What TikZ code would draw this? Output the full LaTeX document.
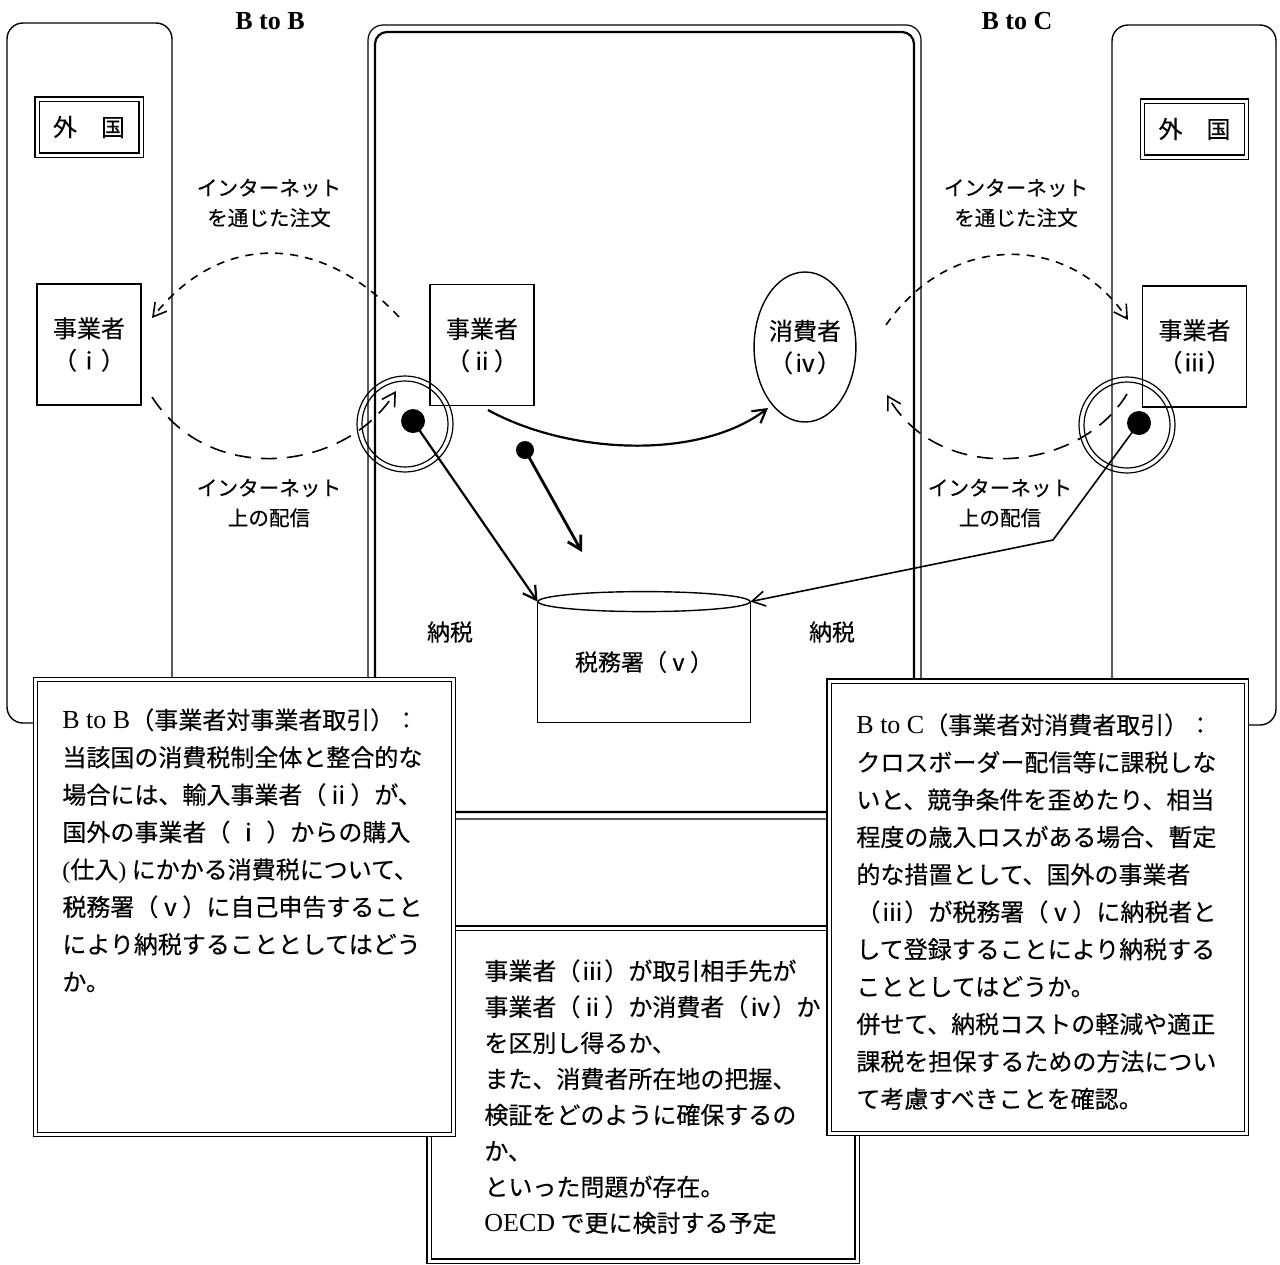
\documentclass[tikz,border=0pt]{standalone}
\usepackage{fontspec}
\setmainfont{Noto Sans CJK JP}[FakeBold=0.3]
\newfontfamily\ser{Liberation Serif}
\newcommand\latn[1]{{\ser\fontsize{13}{18.7}\selectfont #1}}
\usetikzlibrary{arrows.meta,shapes.geometric}
\begin{document}
\begin{tikzpicture}[x=0.5pt,y=-0.5pt,
  frame/.style={draw,line width=0.7pt,rounded corners=8pt},
  dbl/.style={draw,double,line width=0.7pt,double distance=1.5pt,fill=white},
  actor/.style={draw,line width=0.7pt,minimum width=52pt,minimum height=60.5pt,inner sep=0pt,align=center,font=\fontsize{12}{16}\selectfont},
  lbl/.style={align=center,inner sep=0pt,font=\fontsize{10.3}{15}\selectfont},
  head/.style={inner sep=0pt,font=\ser\bfseries\fontsize{13}{15}\selectfont},
  body/.style={align=left,inner sep=0pt,anchor=north west,font=\fontsize{12}{18.7}\selectfont},
  tip/.style={-{Straight Barb[length=6.5pt,width=7.5pt]}},
  dsh/.style={tip,line width=0.8pt,dash pattern=on 4pt off 3.5pt},
  ldsh/.style={tip,line width=0.8pt,dash pattern=on 8pt off 5pt},
  dot/.style={circle,fill,inner sep=0pt,minimum size=#1},
  ring/.style={draw,circle,line width=0.6pt,inner sep=0pt,minimum size=#1}
  ]
\useasboundingbox (0,0) rectangle (1280,1264);

% foreign regions
\draw[frame] (7,23) rectangle (172,723);
\draw[frame] (1112,25) rectangle (1276,725);
% central (domestic) frame
\draw[line width=0.6pt,rounded corners=7.5pt] (368,25) rectangle (921,819);
\draw[line width=1.1pt,rounded corners=6pt] (375,32) rectangle (914,812);
% lower centre box
\draw[dbl] (429,928) rectangle (857,1261);
% side text boxes
\draw[dbl] (35.5,679.5) rectangle (453.5,1134.5);
\draw[dbl] (829,681) rectangle (1246.5,1133.5);

% headings
\node[head] (hbb) at (270,21) {B to B};
\node[head] (hbc) at (1017,21) {B to C};

% foreign labels
\node[dbl,minimum width=52pt,minimum height=28pt,inner sep=0pt,font=\fontsize{12}{14}\selectfont] (f1) at (89,127) {外　国};
\node[dbl,minimum width=52pt,minimum height=28pt,inner sep=0pt,font=\fontsize{12}{14}\selectfont] (f2) at (1194.5,129) {外　国};

% actors
\node[actor] (b1) at (89,344.5) {事業者\\（ⅰ）};
\node[actor] (b2) at (482,345) {事業者\\（ⅱ）};
\node[actor] (b3) at (1194.5,346.5) {事業者\\（ⅲ）};
\node[draw,ellipse,line width=0.7pt,minimum width=50pt,minimum height=75pt,inner sep=0pt,align=center,font=\fontsize{12}{16}\selectfont] (c4) at (805,347) {消費者\\（ⅳ）};

% tax office (cylinder)
\node[minimum width=106pt,minimum height=60pt,inner sep=0pt,font=\fontsize{11.5}{14}\selectfont] (tax) at (644,662) {税務署（ⅴ）};
\draw[line width=0.7pt] (tax.north west) -- (tax.south west) -- (tax.south east) -- (tax.north east);
\draw[line width=0.7pt] (tax.north) ellipse[x radius=53pt,y radius=5pt];

% labels
\node[lbl] (l1) at (269,203) {インターネット\\を通じた注文};
\node[lbl] (l2) at (1016,203) {インターネット\\を通じた注文};
\node[lbl] (l3) at (269,503) {インターネット\\上の配信};
\node[lbl] (l4) at (1000,503) {インターネット\\上の配信};
\node[inner sep=0pt,font=\fontsize{11.5}{14}\selectfont] (n1) at (450,632) {納税};
\node[inner sep=0pt,font=\fontsize{11.5}{14}\selectfont] (n2) at (832,632) {納税};

% rings and dots
\node[ring=48pt] (r1) at (405,424) {};
\node[ring=43pt] (r1i) at (405,424) {};
\node[ring=48pt] (r2) at (1127,425) {};
\node[ring=43pt] (r2i) at (1127,425) {};
\node[dot=12pt] (d1) at (413,421) {};
\node[dot=12pt] (d2) at (1139,423) {};
\node[dot=9pt] (d3) at (525,450) {};

% free ends
\coordinate (a0) at (399,317);
\coordinate (a1) at (152,318);
\coordinate (b0) at (152,397);
\coordinate (b1e) at (396,391);
\coordinate (c0) at (886,325);
\coordinate (c1) at (1128,320);
\coordinate (e0) at (1127,394);
\coordinate (e1) at (887,395);
\coordinate (g0) at (488,410);
\coordinate (g1) at (768,408);
\coordinate (k1) at (582,552);
\coordinate (h1) at (1053,540);

% internet connectors
\draw[dsh] (a0) .. controls (320,232) and (220,232) .. (a1);
\draw[ldsh] (b0) .. controls (210,487) and (345,472) .. (b1e);
\draw[dsh] (c0) .. controls (950,232) and (1070,232) .. (c1);
\draw[ldsh] (e0) .. controls (1080,472) and (940,487) .. (e1);

% sales, tax payment
\draw[tip,line width=1.1pt] (g0) .. controls (570,455) and (700,460) .. (g1);
\draw[tip,line width=1.1pt] (d1.center) -- (tax.north west);
\draw[tip,line width=1.4pt] (d3.center) -- (k1);
\draw[tip,line width=0.8pt] (d2.center) -- (h1) -- (tax.north east);

% texts
\node[body] (tl) at (62,708) {\latn{B to B}（事業者対事業者取引）：\\
当該国の消費税制全体と整合的な\\
場合には、輸入事業者（ⅱ）が、\\
国外の事業者（\hspace{3pt}ⅰ\hspace{3pt}）からの購入\\
{\ser (}仕入{\ser )} にかかる消費税について、\\
税務署（ⅴ）に自己申告すること\\
により納税することとしてはどう\\
か。};

\node[body] (tr) at (856,713) {\latn{B to C}（事業者対消費者取引）：\\
クロスボーダー配信等に課税しな\\
いと、競争条件を歪めたり、相当\\
程度の歳入ロスがある場合、暫定\\
的な措置として、国外の事業者\\
（ⅲ）が税務署（ⅴ）に納税者と\\
して登録することにより納税する\\
こととしてはどうか。\\
併せて、納税コストの軽減や適正\\
課税を担保するための方法につい\\
て考慮すべきことを確認。};

\node[body,font=\fontsize{12}{18}\selectfont] (tc) at (484,959) {事業者（ⅲ）が取引相手先が\\
事業者（ⅱ）か消費者（ⅳ）か\\
を区別し得るか、\\
また、消費者所在地の把握、\\
検証をどのように確保するの\\
か、\\
といった問題が存在。\\
\latn{OECD} で更に検討する予定};
\end{tikzpicture}
\end{document}
